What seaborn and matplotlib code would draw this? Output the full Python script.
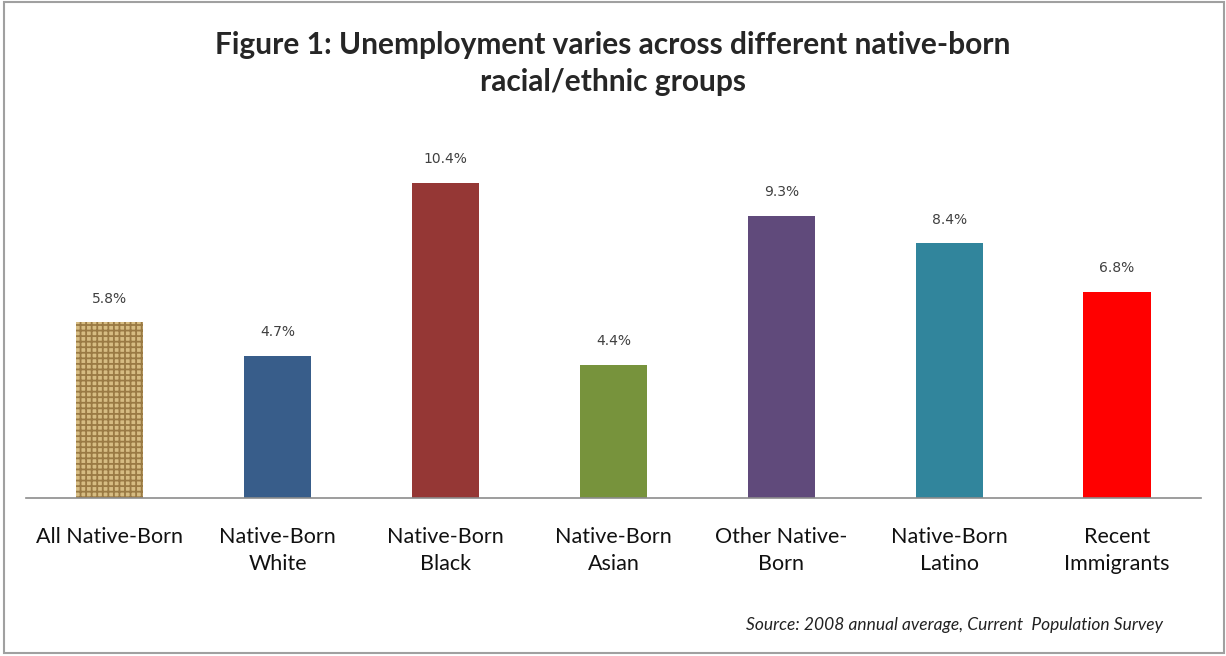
import matplotlib
matplotlib.use("Agg")
import matplotlib.pyplot as plt
import seaborn as sns
import pandas as pd
from matplotlib.patches import Rectangle

categories = ["All Native-Born", "Native-Born White", "Native-Born Black", "Native-Born Asian",
              "Other Native-Born", "Native-Born Latino", "Recent Immigrants"]
tick_labels = ["All Native-Born", "Native-Born\nWhite", "Native-Born\nBlack", "Native-Born\nAsian",
               "Other Native-\nBorn", "Native-Born\nLatino", "Recent\nImmigrants"]
rates = [5.8, 4.7, 10.4, 4.4, 9.3, 8.4, 6.8]
colors = ["#D6BC82", "#385D8A", "#953735", "#77933C", "#604A7B", "#31859C", "#FF0000"]

sns.set_style("white")
plt.rcParams["font.family"] = ["Lato", "DejaVu Sans"]
plt.rcParams["hatch.linewidth"] = 1.3

df = pd.DataFrame({"group": categories, "rate": rates})

fig = plt.figure(figsize=(12.26, 6.56), dpi=100)
ax = fig.add_axes([0.0212, 0.2409, 0.9584, 0.5543])
sns.barplot(data=df, x="group", y="rate", hue="group", palette=colors, legend=False,
            width=0.4, saturation=1, ax=ax, linewidth=0)

# burlap-like texture for the first bar
first = ax.patches[0]
first.set_hatch("+++")
first.set_edgecolor("#9A7A44")
first.set_linewidth(0)

ax.set_ylim(0, 12)
ax.set_xlim(-0.5, len(categories) - 0.5)
ax.set_xlabel("")
ax.set_ylabel("")
ax.set_yticks([])
ax.set_xticks(range(len(categories)))
ax.set_xticklabels(tick_labels, fontsize=15.5, color="#111111", linespacing=1.45)
ax.tick_params(axis="x", length=0, pad=21)
for s in ["top", "right", "left"]:
    ax.spines[s].set_visible(False)
ax.spines["bottom"].set_color("#8C8C8C")
ax.spines["bottom"].set_linewidth(1.2)

for i, v in enumerate(rates):
    ax.annotate(f"{v:.1f}%", (i, v), xytext=(0, 12), textcoords="offset points",
                ha="center", va="bottom", fontsize=10, color="#404040",
                family=["DejaVu Sans"])

fig.text(0.5, 0.903, "Figure 1: Unemployment varies across different native-born\nracial/ethnic groups",
         ha="center", va="center", fontsize=21.5, fontweight="bold", linespacing=1.4)
fig.text(0.949, 0.047, "Source: 2008 annual average, Current  Population Survey",
         ha="right", va="center", fontsize=12.5, style="italic", color="#222222")

fig.patches.append(Rectangle((0.003, 0.004), 0.995, 0.993, transform=fig.transFigure,
                             fill=False, edgecolor="#A0A0A0", linewidth=1.5))

fig.savefig("out.png", dpi=100)
